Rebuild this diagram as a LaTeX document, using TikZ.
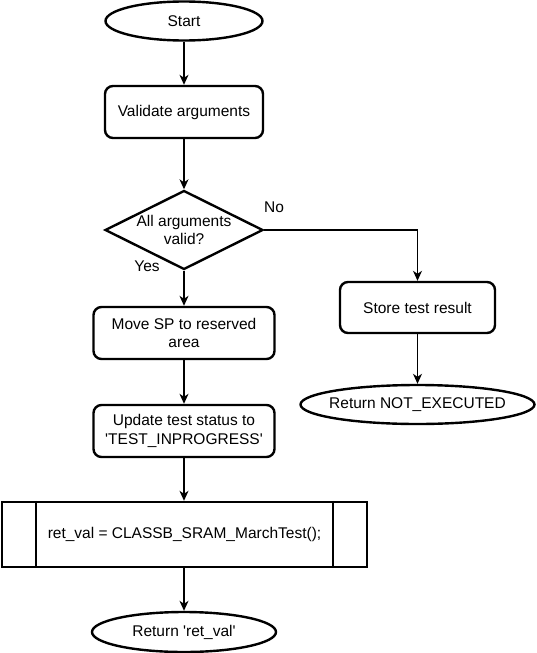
\documentclass[tikz,border=0pt]{standalone}
\usepackage{fontspec}
\setmainfont{Liberation Sans}
\usetikzlibrary{shapes.geometric,arrows.meta,calc}
\begin{document}
\begin{tikzpicture}[x=1pt,y=-1pt,
  every node/.style={font=\fontsize{15.5}{18.5}\selectfont, align=center, inner sep=0pt},
  shp/.style={draw=black, line width=2.4pt},
  term/.style={shp, ellipse, inner xsep=-40pt, inner ysep=-12pt},
  proc/.style={shp, rectangle, rounded corners=8pt},
  conn/.style={draw=black, line width=1.3pt, -{Stealth[length=10pt,width=9pt,inset=3pt]}},
  lbl/.style={font=\fontsize{15.5}{18.5}\selectfont}
]
\useasboundingbox (0,0) rectangle (536,653);
\node[term, minimum width=157pt, minimum height=39pt] (start) at (184,21) {Start};
\node[proc, minimum width=158pt, minimum height=52pt] (valid) at (184,112) {Validate arguments};
\node[shp, diamond, minimum width=158pt, minimum height=79pt] (dec) at (184,230) {};
\node (dectext) at (184,230) {All arguments\\valid?};
\node[lbl] (no) at (274,207) {No};
\node[lbl] (yes) at (147,266) {Yes};
\node[proc, minimum width=181pt, minimum height=52pt] (move) at (184,333) {Move SP to reserved\\area};
\node[proc, minimum width=181pt, minimum height=52pt] (upd) at (184,431) {Update test status to\\\textquotesingle TEST\_INPROGRESS\textquotesingle};
\node[shp, rectangle, minimum width=365pt, minimum height=65pt] (pre) at (184.5,534.5) {ret\_val = CLASSB\_SRAM\_MarchTest();};
\draw[line width=2.4pt] ($(pre.north west)+(35,0)$) -- ($(pre.south west)+(35,0)$);
\draw[line width=2.4pt] ($(pre.north east)+(-35,0)$) -- ($(pre.south east)+(-35,0)$);
\node[term, minimum width=184pt, minimum height=40pt] (ret) at (184,632) {Return \textquotesingle ret\_val\textquotesingle};
\node[proc, minimum width=155pt, minimum height=51pt] (store) at (417.5,307.5) {Store test result};
\node[term, minimum width=234pt, minimum height=39pt] (notex) at (417.5,404.5) {Return NOT\_EXECUTED};
\coordinate (corner) at (417.5,230);
\draw[conn] (start) -- (valid);
\draw[conn] (valid) -- (dec);
\draw[conn] (dec) -- (move);
\draw[conn] (move) -- (upd);
\draw[conn] (upd) -- (pre.north -| upd);
\draw[conn] (pre.south -| ret) -- (ret);
\draw[conn] (dec.east) -- (corner) -- (store.north);
\draw[conn] (store) -- (notex);
\end{tikzpicture}
\end{document}
